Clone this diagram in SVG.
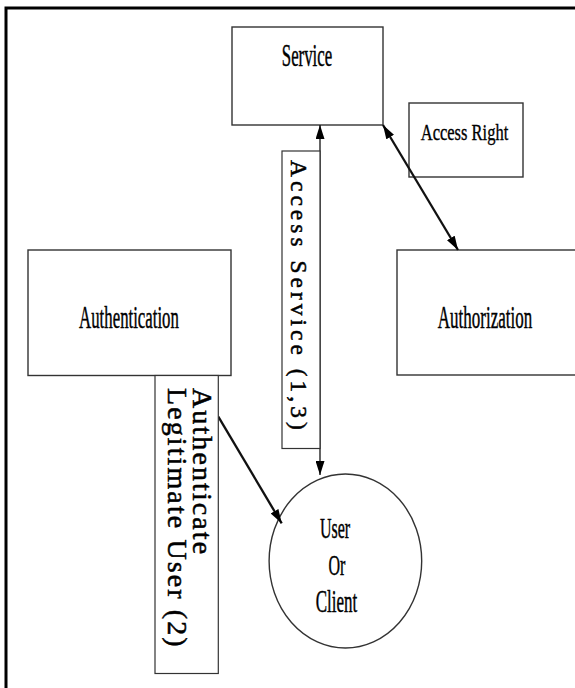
<svg xmlns="http://www.w3.org/2000/svg" width="575" height="688" viewBox="0 0 575 688">
<defs>
<style>
.box{fill:#fff;stroke:#333;stroke-width:1.4}
.lbl{fill:#fff;stroke:#333;stroke-width:1.2}
.t{font-family:"Liberation Serif","Times New Roman",serif;fill:#000;stroke:#000;stroke-width:0.25;text-anchor:middle}
.rt{font-family:"Liberation Serif","Times New Roman",serif;fill:#000;stroke:#000;stroke-width:0.5}
.c1{stroke:#111;stroke-width:1.3;fill:none}
.c2{stroke:#111;stroke-width:2.3;fill:none}
</style>
<marker id="ah" viewBox="0 0 14 9" refX="14" refY="4.5" markerWidth="14" markerHeight="9" markerUnits="userSpaceOnUse" orient="auto-start-reverse">
<path d="M0,0 L14,4.5 L0,9 Z" fill="#000"/>
</marker>
</defs>
<rect width="575" height="688" fill="#fff"/>
<path d="M6,688 V8 H575" fill="none" stroke="#000" stroke-width="3"/>

<g id="service">
<rect class="box" x="232" y="27" width="151" height="98"/>
<text class="t" font-size="16.8" transform="translate(307,66) scale(1,1.85)">Service</text>
</g>

<g id="access-right">
<rect class="box" x="409" y="103" width="114" height="74"/>
<text class="t" font-size="16.5" transform="translate(464.5,140) scale(1,1.38)">Access Right</text>
</g>

<g id="authentication">
<rect class="box" x="28" y="250" width="203" height="125.5"/>
<text class="t" font-size="16.8" transform="translate(129,328.3) scale(1,1.9)">Authentication</text>
</g>

<g id="authorization">
<rect class="box" x="397" y="250" width="180" height="125"/>
<text class="t" font-size="17" transform="translate(485,328.3) scale(1,1.9)">Authorization</text>
</g>

<g id="user-client">
<ellipse cx="345.4" cy="561" rx="76.3" ry="87" fill="#fff" stroke="#333" stroke-width="1.4"/>
<text class="t" font-size="16" transform="translate(335,538.3) scale(1,1.9)">User</text>
<text class="t" font-size="16" transform="translate(337,575) scale(1,1.9)">Or</text>
<text class="t" font-size="17" transform="translate(336.5,611.7) scale(1,1.8)">Client</text>
</g>

<g id="connectors">
<line class="c1" x1="320" y1="475" x2="320" y2="125" marker-start="url(#ah)" marker-end="url(#ah)"/>
<line class="c2" x1="458" y1="250" x2="383" y2="125" marker-start="url(#ah)" marker-end="url(#ah)"/>
<line class="c2" x1="218.3" y1="416.7" x2="281.7" y2="523.3" marker-end="url(#ah)"/>
</g>

<g id="label-access-service">
<rect class="lbl" x="282" y="151" width="38" height="297.5"/>
<text class="rt" font-size="23.5" letter-spacing="4" transform="translate(290.5,160) rotate(90)">Access Service (1,3)</text>
</g>

<g id="label-authenticate">
<rect class="lbl" x="155" y="375.5" width="63.3" height="298"/>
<text class="rt" font-size="28" letter-spacing="2.1" transform="translate(193,388) rotate(90)">Authenticate</text>
<text class="rt" font-size="28" letter-spacing="2.1" transform="translate(168,388) rotate(90)">Legitimate User (2)</text>
</g>
</svg>
